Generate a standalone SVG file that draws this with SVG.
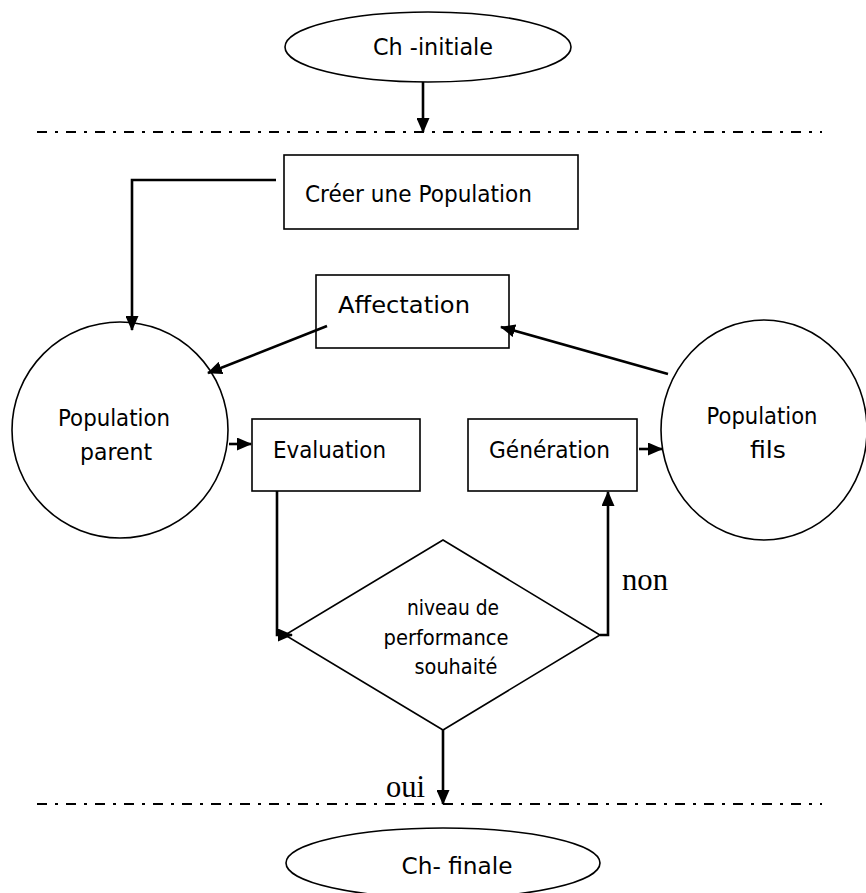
<svg xmlns="http://www.w3.org/2000/svg" width="866" height="893" viewBox="0 0 866 893">
  <style>
    .shape { fill: #fff; stroke: #000; stroke-width: 1.6; }
    .lbl { font-family: "Comic Sans MS", "DejaVu Sans", sans-serif; font-size: 20px; fill: #000; }
    .small { font-size: 18px; }
    .mid { text-anchor: middle; }
    .tr { font-family: "Liberation Serif", "Times New Roman", serif; font-size: 28px; fill: #000; }
    .wire { fill: none; stroke: #000; stroke-width: 2.6; }
    .sep { fill: none; stroke: #000; stroke-width: 2.2; stroke-dasharray: 10 8 3 8; }
  </style>
  <defs>
    <marker id="tip" viewBox="0 0 15 13" refX="14" refY="6.5" markerWidth="15" markerHeight="13" markerUnits="userSpaceOnUse" orient="auto">
      <path d="M0,0 L15,6.5 L0,13 z" fill="#000"/>
    </marker>
  </defs>

  <rect width="866" height="893" fill="#fff"/>

  <!-- phase separators -->
  <line class="sep" x1="37" y1="132" x2="822" y2="132"/>
  <line class="sep" x1="37" y1="804" x2="822" y2="804"/>

  <g id="ch-initiale">
    <ellipse class="shape" cx="428" cy="47" rx="143" ry="35"/>
    <text class="lbl mid" transform="translate(433,55) scale(1,1.15)" textLength="120" lengthAdjust="spacingAndGlyphs">Ch -initiale</text>
  </g>

  <g id="creer-population">
    <rect class="shape" x="284" y="155" width="294" height="74"/>
    <text class="lbl" transform="translate(305,202) scale(1,1.15)" textLength="227" lengthAdjust="spacingAndGlyphs">Créer une Population</text>
  </g>

  <g id="affectation">
    <rect class="shape" x="316" y="275" width="193" height="73"/>
    <text class="lbl" transform="translate(338,313) scale(1,1.15)" textLength="132" lengthAdjust="spacingAndGlyphs">Affectation</text>
  </g>

  <g id="population-parent">
    <ellipse class="shape" cx="120" cy="430" rx="108" ry="108"/>
    <text class="lbl mid" transform="translate(114,426) scale(1,1.15)" textLength="112" lengthAdjust="spacingAndGlyphs">Population</text>
    <text class="lbl mid" transform="translate(116,460) scale(1,1.15)" textLength="72" lengthAdjust="spacingAndGlyphs">parent</text>
  </g>

  <g id="evaluation">
    <rect class="shape" x="252" y="419" width="168" height="72"/>
    <text class="lbl" transform="translate(273,458) scale(1,1.15)" textLength="113" lengthAdjust="spacingAndGlyphs">Evaluation</text>
  </g>

  <g id="generation">
    <rect class="shape" x="468" y="419" width="169" height="72"/>
    <text class="lbl" transform="translate(489,458) scale(1,1.15)" textLength="121" lengthAdjust="spacingAndGlyphs">Génération</text>
  </g>

  <g id="population-fils">
    <ellipse class="shape" cx="764" cy="430" rx="103" ry="110"/>
    <text class="lbl mid" transform="translate(762,424) scale(1,1.15)" textLength="111" lengthAdjust="spacingAndGlyphs">Population</text>
    <text class="lbl mid" transform="translate(768,458) scale(1,1.15)" textLength="36" lengthAdjust="spacingAndGlyphs">fils</text>
  </g>

  <g id="test-performance">
    <polygon class="shape" points="443,540 600,635 443,730 285,635"/>
    <text class="lbl small mid" transform="translate(453,615) scale(1,1.15)" textLength="92" lengthAdjust="spacingAndGlyphs">niveau de</text>
    <text class="lbl small mid" transform="translate(446,645) scale(1,1.15)" textLength="125" lengthAdjust="spacingAndGlyphs">performance</text>
    <text class="lbl small mid" transform="translate(456,674) scale(1,1.15)" textLength="83" lengthAdjust="spacingAndGlyphs">souhaité</text>
  </g>

  <g id="ch-finale">
    <ellipse class="shape" cx="443" cy="863" rx="157" ry="35"/>
    <text class="lbl mid" transform="translate(457,874) scale(1,1.15)" textLength="111" lengthAdjust="spacingAndGlyphs">Ch- finale</text>
  </g>

  <g id="connectors">
    <line class="wire" x1="423" y1="82" x2="423" y2="132" marker-end="url(#tip)"/>
    <polyline class="wire" points="276,180 132,180 132,330" marker-end="url(#tip)"/>
    <line class="wire" x1="327" y1="326" x2="208" y2="373" marker-end="url(#tip)"/>
    <line class="wire" x1="668" y1="374" x2="501" y2="327" marker-end="url(#tip)"/>
    <line class="wire" x1="229" y1="444" x2="251" y2="444" marker-end="url(#tip)"/>
    <line class="wire" x1="639" y1="449" x2="662" y2="449" marker-end="url(#tip)"/>
    <polyline class="wire" points="277,491 277,635 292,635" marker-end="url(#tip)"/>
    <polyline class="wire" points="600,635 608,635 608,492" marker-end="url(#tip)"/>
    <line class="wire" x1="443" y1="730" x2="443" y2="804" marker-end="url(#tip)"/>
    <text class="tr" transform="translate(622,590) scale(1,1.15)" textLength="46" lengthAdjust="spacingAndGlyphs">non</text>
    <text class="tr" transform="translate(386,797) scale(1,1.15)" textLength="39" lengthAdjust="spacingAndGlyphs">oui</text>
  </g>
</svg>
